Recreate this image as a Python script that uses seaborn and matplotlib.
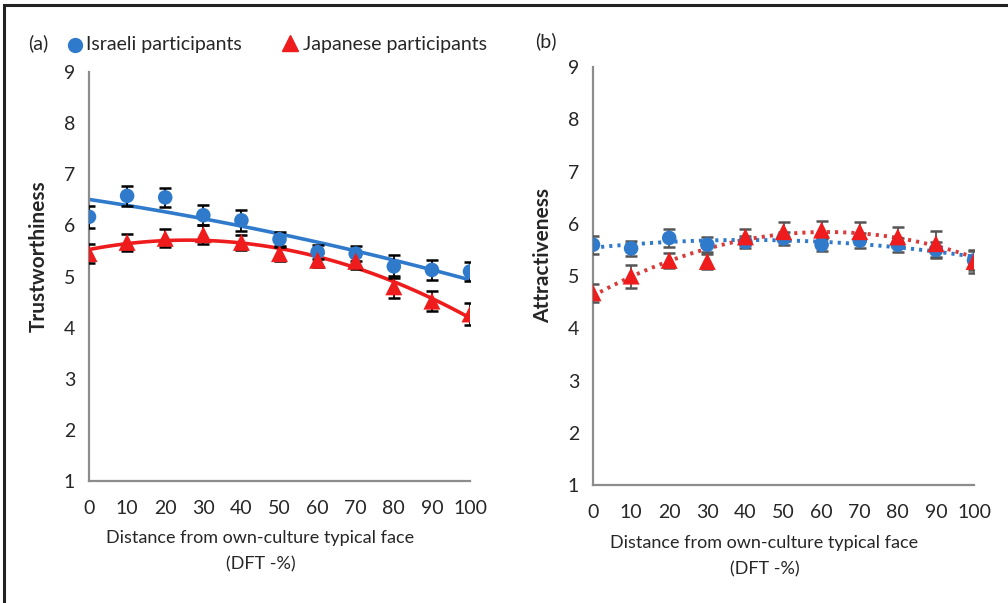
import matplotlib
matplotlib.use("Agg")
import matplotlib.pyplot as plt
import seaborn as sns
import numpy as np
from matplotlib.patches import Rectangle

# data
dft = [0, 10, 20, 30, 40, 50, 60, 70, 80, 90, 100]

trust_isr = [6.17, 6.58, 6.55, 6.20, 6.10, 5.73, 5.48, 5.45, 5.20, 5.13, 5.10]
trust_isr_err = [0.22, 0.20, 0.18, 0.20, 0.20, 0.15, 0.14, 0.14, 0.22, 0.20, 0.18]
trust_jap = [5.45, 5.67, 5.75, 5.82, 5.67, 5.45, 5.32, 5.30, 4.80, 4.52, 4.27]
trust_jap_err = [0.18, 0.17, 0.18, 0.18, 0.15, 0.15, 0.14, 0.16, 0.22, 0.20, 0.22]

attr_isr = [5.60, 5.53, 5.73, 5.60, 5.65, 5.72, 5.60, 5.68, 5.60, 5.50, 5.30]
attr_isr_err = [0.17, 0.14, 0.18, 0.14, 0.12, 0.12, 0.12, 0.14, 0.13, 0.15, 0.18]
attr_jap = [4.68, 5.00, 5.30, 5.28, 5.75, 5.85, 5.88, 5.85, 5.75, 5.62, 5.28]
attr_jap_err = [0.17, 0.22, 0.15, 0.15, 0.15, 0.18, 0.18, 0.18, 0.18, 0.25, 0.22]

blue = "#2F7ACB"
red = "#EE1C1C"

sns.set_style("white")
plt.rcParams['font.family'] = ['Lato', 'DejaVu Sans']

fig = plt.figure(figsize=(10.08, 6.03), dpi=100)
ax_a = fig.add_axes([0.0883, 0.2023, 0.378, 0.678])
ax_b = fig.add_axes([0.5883, 0.1957, 0.378, 0.693])


def draw_panel(ax, y_isr, e_isr, y_jap, e_jap, ylabel, line_style, err_color):
    # trendlines (2nd order polynomial, like the Excel trendline)
    sns.regplot(x=dft, y=y_isr, order=2, ci=None, scatter=False, ax=ax, truncate=True,
                line_kws=dict(color=blue, lw=2.6 if line_style == '-' else 2.8,
                              linestyle=line_style, zorder=2))
    sns.regplot(x=dft, y=y_jap, order=2, ci=None, scatter=False, ax=ax, truncate=True,
                line_kws=dict(color=red if line_style == '-' else "#D93A3A",
                              lw=2.6 if line_style == '-' else 2.8,
                              linestyle=line_style, zorder=2))
    ax.errorbar(dft, y_isr, yerr=e_isr, fmt='none', ecolor=err_color, elinewidth=1.3,
                capsize=4, capthick=1.8, zorder=3)
    ax.errorbar(dft, y_jap, yerr=e_jap, fmt='none', ecolor=err_color, elinewidth=1.3,
                capsize=4, capthick=1.8, zorder=3)
    sns.scatterplot(x=dft, y=y_isr, ax=ax, marker='o', s=110, color=blue,
                    edgecolor='none', zorder=4)
    sns.scatterplot(x=dft, y=y_jap, ax=ax, marker='^', s=150, color=red,
                    edgecolor='none', zorder=5)

    ax.set_xlim(0, 100)
    ax.set_ylim(1, 9)
    ax.set_xticks(dft)
    ax.set_yticks(range(1, 10))
    ax.tick_params(axis='both', labelsize=14, length=6, width=1.3, color='#8C8C8C',
                   direction='out', pad=4)
    ax.tick_params(axis='x', pad=8)
    for side in ['top', 'right']:
        ax.spines[side].set_visible(False)
    for side in ['left', 'bottom']:
        ax.spines[side].set_color('#8C8C8C')
        ax.spines[side].set_linewidth(1.6)
    ax.set_ylabel(ylabel, fontsize=15, fontweight='bold')
    ax.yaxis.set_label_coords(-0.105, 0.55)
    ax.set_xlabel("Distance from own-culture typical face\n(DFT -%)", fontsize=13,
                  linespacing=1.8)
    ax.xaxis.set_label_coords(0.45, -0.12, transform=ax.transAxes)
    ax.xaxis.label.set_va('top')
    for sp in ax.spines.values():
        sp.set_clip_on(False)


draw_panel(ax_a, trust_isr, trust_isr_err, trust_jap, trust_jap_err,
           "Trustworthiness", '-', 'black')
draw_panel(ax_b, attr_isr, attr_isr_err, attr_jap, attr_jap_err,
           "Attractiveness", (0, (0.8, 1.3)), '#555555')

# panel letters and legend
fig.text(0.028, 0.928, "(a)", fontsize=14, va='center')
fig.text(0.531, 0.932, "(b)", fontsize=14, va='center')

fig.lines.append(plt.Line2D([0.074], [0.926], marker='o', markersize=10, color=blue,
                            linestyle='none', transform=fig.transFigure))
fig.text(0.085, 0.926, "Israeli participants", fontsize=14, va='center')
fig.lines.append(plt.Line2D([0.288], [0.928], marker='^', markersize=11, color=red,
                            linestyle='none', transform=fig.transFigure))
fig.text(0.301, 0.926, "Japanese participants", fontsize=14, va='center')

# outer frame
fig.patches.append(Rectangle((0.004, -0.1), 1.2, 1.092, transform=fig.transFigure,
                             fill=False, edgecolor='#222222', linewidth=2.2))

fig.savefig("out.png", dpi=100)
